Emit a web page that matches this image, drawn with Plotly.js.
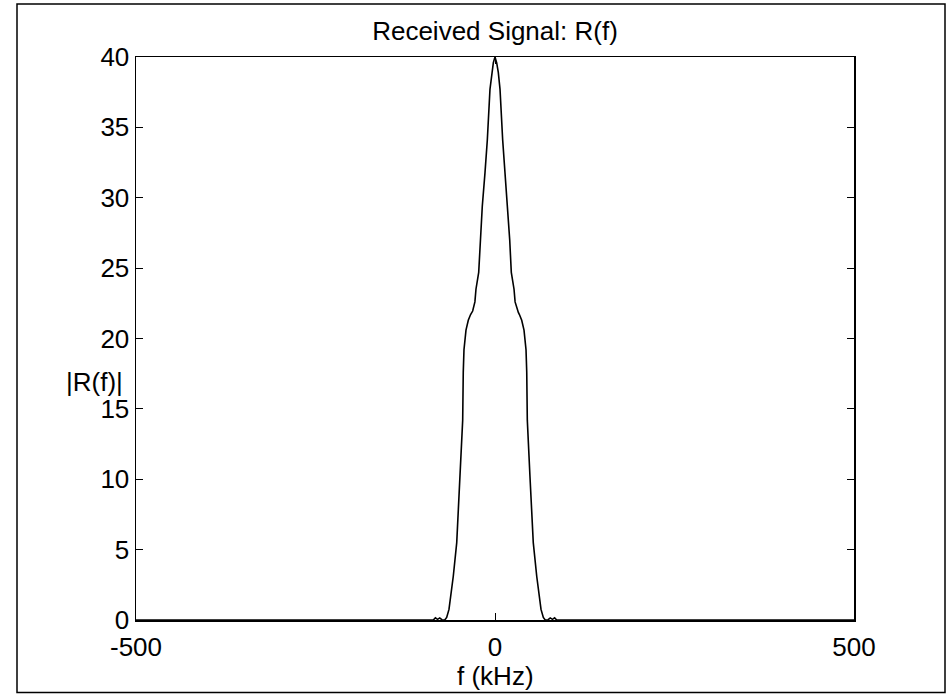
<!DOCTYPE html>
<html>
<head>
<meta charset="utf-8">
<script src="https://cdn.plot.ly/plotly-3.0.1.min.js"></script>
<style>
  html, body { margin: 0; padding: 0; background: #ffffff; }
  #chart { width: 951px; height: 695px; }
</style>
</head>
<body>
<div id="chart"></div>
<script>
// Frequency axis (kHz) and |R(f)| magnitude
const freqKHz = [
  -500, -90, -86, -83, -80, -77, -74, -70, -67.3, -64.1, -61.3, -58.1, -53.3, -48.7,
  -45.0, -44.2, -43.2, -40.4, -37.2, -34.0, -32.5, -31.1, -28.0, -26.5, -22.7, -20.5,
  -17.7, -13.9, -10.7, -7.0, -4.6, -2.3, 0,
  2.3, 4.6, 7.0, 10.7, 13.9, 17.7, 20.5, 22.7, 26.5, 28.0, 31.1, 32.5, 34.0, 37.2,
  40.4, 43.2, 44.2, 45.0, 48.7, 53.3, 58.1, 61.3, 64.1, 67.3, 70, 74, 77, 80, 83, 86, 90, 500
];
const magnitude = [
  0, 0, 0, 0.15, 0.05, 0.15, 0.02, 0, 0.18, 0.75, 1.69, 3.11, 5.5, 10.2,
  14.2, 17.6, 19.2, 20.6, 21.3, 21.7, 21.85, 21.95, 22.6, 23.5, 24.7, 27.0,
  29.4, 31.8, 34.1, 37.7, 38.9, 39.6, 40,
  39.6, 38.9, 37.7, 34.1, 31.8, 29.4, 27.0, 24.7, 23.5, 22.6, 21.95, 21.85, 21.7, 21.3,
  20.6, 19.2, 17.6, 14.2, 10.2, 5.5, 3.11, 1.69, 0.75, 0.18, 0, 0.02, 0.15, 0.05, 0.15, 0, 0, 0
];
const xTicks = [-500, 0, 500];
const yTicks = [0, 5, 10, 15, 20, 25, 30, 35, 40];

const FONT = 'Liberation Sans, Arial, Helvetica, sans-serif';
const FS = 26;

const trace = {
  x: freqKHz,
  y: magnitude,
  type: 'scatter',
  mode: 'lines',
  line: { color: '#000000', width: 1.6 },
  hoverinfo: 'x+y'
};

const layout = {
  width: 951,
  height: 695,
  margin: { l: 136, r: 97, t: 57, b: 75, pad: 0 },
  paper_bgcolor: '#ffffff',
  plot_bgcolor: '#ffffff',
  showlegend: false,
  font: { family: FONT, size: FS, color: '#000000' },
  title: {
    text: 'Received Signal: R(f)',
    font: { family: FONT, size: FS, color: '#000000' },
    x: 0.5, xref: 'paper', xanchor: 'center',
    y: 1 - 31 / 695, yref: 'container', yanchor: 'middle'
  },
  xaxis: {
    range: [-500, 500],
    tickmode: 'array',
    tickvals: xTicks,
    ticktext: xTicks.map(String),
    ticks: 'inside',
    ticklen: 7,
    tickwidth: 1,
    tickcolor: '#000000',
    showline: true,
    linecolor: '#000000',
    linewidth: 1.5,
    mirror: 'ticks',
    showgrid: false,
    zeroline: false,
    ticklabelstandoff: 3,
    tickfont: { family: FONT, size: FS, color: '#000000' }
  },
  yaxis: {
    range: [0, 40],
    tickmode: 'array',
    tickvals: yTicks,
    ticktext: yTicks.map(String),
    ticks: 'inside',
    ticklen: 7,
    tickwidth: 1,
    tickcolor: '#000000',
    showline: true,
    linecolor: '#000000',
    linewidth: 1.5,
    mirror: 'ticks',
    showgrid: false,
    zeroline: false,
    tickfont: { family: FONT, size: FS, color: '#000000' }
  },
  annotations: [{
    text: '|R(f)|',
    xref: 'paper', yref: 'paper',
    x: (94 - 136) / 718, y: (620.5 - 382) / 563.5,
    xanchor: 'center', yanchor: 'middle',
    showarrow: false, textangle: 0,
    font: { family: FONT, size: FS, color: '#000000' }
  }, {
    text: 'f (kHz)',
    xref: 'paper', yref: 'paper',
    x: 0.5, y: (620.5 - 677) / 563.5,
    xanchor: 'center', yanchor: 'middle',
    showarrow: false, textangle: 0,
    font: { family: FONT, size: FS, color: '#000000' }
  }],
  shapes: [{
    type: 'rect',
    xref: 'paper', yref: 'paper',
    x0: (17 - 136) / 718, x1: (945 - 136) / 718,
    y0: (620.5 - 693) / 563.5, y1: (620.5 - 4) / 563.5,
    line: { color: '#000000', width: 1.5 },
    fillcolor: 'rgba(0,0,0,0)'
  }]
};

Plotly.newPlot('chart', [trace], layout, { displayModeBar: false, staticPlot: true });
</script>
</body>
</html>
